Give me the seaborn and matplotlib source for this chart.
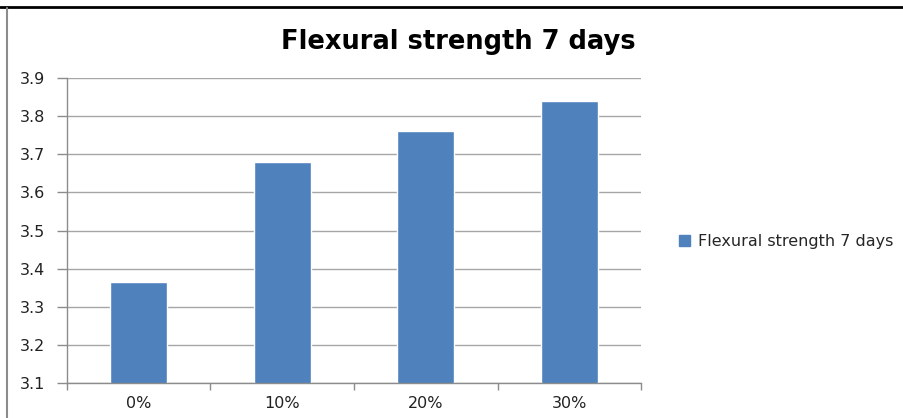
import matplotlib
matplotlib.use("Agg")
import matplotlib.pyplot as plt
from matplotlib.ticker import MultipleLocator, FixedLocator
from matplotlib.lines import Line2D
import seaborn as sns
import pandas as pd

# data
categories = ["0%", "10%", "20%", "30%"]
strength = [3.365, 3.68, 3.76, 3.84]
series_name = "Flexural strength 7 days"

df = pd.DataFrame({"mix": categories, "value": strength})

sns.set_style("white")
plt.rcParams["font.family"] = ["DejaVu Sans"]

fig = plt.figure(figsize=(9.04, 4.18), dpi=100)
ax = fig.add_axes([0.0741, 0.0837, 0.6350, 0.7297])

bar_color = "#4F81BD"
sns.barplot(df, x="mix", y="value", color=bar_color, width=0.4,
            saturation=1, errorbar=None, zorder=2, ax=ax, label=series_name)

ax.set_ylim(3.1, 3.9)
ax.set_xlim(-0.5, 3.5)
ax.yaxis.set_major_locator(MultipleLocator(0.1))
ax.yaxis.set_major_formatter(lambda v, p: f"{v:.1f}")
ax.grid(axis="y", color="#A6A6A6", lw=1, zorder=0)
ax.set_axisbelow(True)

# x tick marks between categories (excel style)
ax.xaxis.set_minor_locator(FixedLocator([-0.5, 0.5, 1.5, 2.5, 3.5]))
ax.tick_params(axis="x", which="major", length=0, labelsize=11.5, labelcolor="#222222", pad=9)
ax.tick_params(axis="x", which="minor", bottom=True, length=5, width=1,
               color="#8C8C8C", direction="out")
ax.tick_params(axis="y", left=True, length=7, width=1, color="#8C8C8C", direction="out",
               labelsize=11.5, labelcolor="#222222", pad=9)

for s in ["top", "right"]:
    ax.spines[s].set_visible(False)
for s in ["left", "bottom"]:
    ax.spines[s].set_color("#8C8C8C")
    ax.spines[s].set_linewidth(1)

ax.set_xlabel("")
ax.set_ylabel("")
if ax.get_legend():
    ax.get_legend().remove()

fig.text(0.507, 0.90, series_name, ha="center", va="center",
         fontsize=18.5, fontweight="bold", color="black")

handle = plt.Rectangle((0, 0), 1, 1, color=bar_color)
fig.legend([handle], [series_name], loc="center left",
           bbox_to_anchor=(0.735, 0.422), frameon=False, fontsize=11.5,
           handlelength=0.7, handleheight=0.7, handletextpad=0.5)

# outer chart frame
fig.add_artist(Line2D([0, 1], [0.984, 0.984], transform=fig.transFigure, color="black", lw=2))
fig.add_artist(Line2D([0.0075, 0.0075], [0, 0.98], transform=fig.transFigure, color="#8C8C8C", lw=1.5))

fig.savefig("out.png", dpi=100)
